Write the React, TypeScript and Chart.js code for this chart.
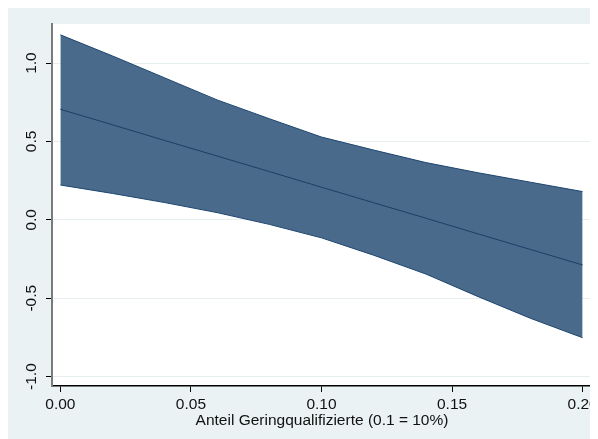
import { useEffect, useRef } from "react";
import { Chart, registerables } from "chart.js";

Chart.register(...registerables);

// Marginal effect of the low-skilled share, with its confidence band
const shareLowSkilled = [0, 0.02, 0.04, 0.06, 0.08, 0.1, 0.12, 0.14, 0.16, 0.18, 0.2];
const effect = [0.705, 0.606, 0.506, 0.407, 0.308, 0.208, 0.109, 0.01, -0.09, -0.189, -0.288];
const upperCI = [1.18, 1.045, 0.905, 0.765, 0.645, 0.528, 0.445, 0.365, 0.3, 0.24, 0.18];
const lowerCI = [0.222, 0.168, 0.11, 0.046, -0.029, -0.115, -0.226, -0.346, -0.49, -0.628, -0.752];

const xTicks = [0, 0.05, 0.1, 0.15, 0.2];
const xTickLabels = ["0.00", "0.05", "0.10", "0.15", "0.20"];
const yTicks = [-1, -0.5, 0, 0.5, 1];
const yTickLabels = ["-1.0", "-0.5", "0.0", "0.5", "1.0"];
const xTitle = "Anteil Geringqualifizierte (0.1 = 10%)";

const FONT_FAMILY = '"Liberation Sans", Arial, sans-serif';
const FONT_SIZE = 15.5;
const TEXT = "#111111";
const PAGE_BG = "#eaf2f3";
const GRID = "#e6eef0";
const BAND = "#496a8a";
const EDGE = "#1d4670";
const LINE = "#1a3f68";
const GRAPH_WIDTH = 587;

const backgroundPlugin = {
  id: "stataBackground",
  beforeDraw(chart: any) {
    const { ctx, chartArea, height } = chart;
    ctx.save();
    ctx.fillStyle = PAGE_BG;
    ctx.fillRect(0, 0, GRAPH_WIDTH, height);
    ctx.fillStyle = "#ffffff";
    ctx.fillRect(chartArea.left, chartArea.top, chartArea.right - chartArea.left, chartArea.bottom - chartArea.top);
    ctx.restore();
  },
};

// Vertical (bottom-to-top) labels for the y axis
const yLabelPlugin = {
  id: "verticalYLabels",
  afterDraw(chart: any) {
    const { ctx } = chart;
    const yScale = chart.scales.y;
    ctx.save();
    ctx.font = `${FONT_SIZE}px ${FONT_FAMILY}`;
    ctx.fillStyle = TEXT;
    ctx.textAlign = "center";
    ctx.textBaseline = "middle";
    yTicks.forEach((v, i) => {
      const py = yScale.getPixelForValue(v);
      ctx.save();
      ctx.translate(yScale.right - 20, py);
      ctx.rotate(-Math.PI / 2);
      ctx.fillText(yTickLabels[i], 0, 0);
      ctx.restore();
    });
    ctx.restore();
  },
};

export default function App() {
  const canvasRef = useRef<HTMLCanvasElement>(null);

  useEffect(() => {
    const points = (ys: number[]) => shareLowSkilled.map((x, i) => ({ x, y: ys[i] }));
    const chart = new Chart(canvasRef.current as HTMLCanvasElement, {
      type: "line",
      data: {
        datasets: [
          {
            label: "upper",
            data: points(upperCI),
            borderColor: EDGE,
            borderWidth: 1,
            backgroundColor: BAND,
            fill: "+1",
            pointRadius: 0,
            tension: 0,
          },
          {
            label: "lower",
            data: points(lowerCI),
            borderColor: EDGE,
            borderWidth: 1,
            fill: false,
            pointRadius: 0,
            tension: 0,
          },
          {
            label: "effect",
            data: points(effect),
            borderColor: LINE,
            borderWidth: 1,
            fill: false,
            pointRadius: 0,
            tension: 0,
          },
        ],
      },
      options: {
        responsive: false,
        animation: false,
        events: [],
        layout: { padding: { top: 16, right: 6, left: 0, bottom: 0 } },
        plugins: {
          legend: { display: false },
          tooltip: { enabled: false },
          title: { display: false },
          filler: { drawTime: "beforeDatasetsDraw" },
        },
        scales: {
          x: {
            type: "linear",
            min: -0.0032,
            max: 0.2036,
            afterBuildTicks: (s: any) => {
              s.ticks = xTicks.map((value) => ({ value }));
            },
            afterFit: (s: any) => {
              s.height = 53;
              s.paddingLeft = 0;
              s.paddingRight = 0;
            },
            ticks: {
              autoSkip: false,
              maxRotation: 0,
              padding: 3,
              color: TEXT,
              font: { family: FONT_FAMILY, size: FONT_SIZE },
              callback: (_v: any, i: number) => xTickLabels[i],
            },
            grid: { drawOnChartArea: false, drawTicks: true, tickLength: 6, tickColor: "#000000", tickWidth: 1 },
            border: { color: "#000000", width: 1.5 },
            title: {
              display: true,
              text: xTitle,
              color: TEXT,
              font: { family: FONT_FAMILY, size: FONT_SIZE },
              padding: { top: 0, bottom: 9 },
            },
          },
          y: {
            type: "linear",
            min: -1.06,
            max: 1.249,
            afterBuildTicks: (s: any) => {
              s.ticks = yTicks.map((value) => ({ value }));
            },
            afterFit: (s: any) => {
              s.width = 44;
              s.paddingTop = 0;
              s.paddingBottom = 0;
            },
            ticks: { display: false },
            grid: { color: GRID, lineWidth: 1, drawTicks: true, tickLength: 6, tickColor: "#000000", tickWidth: 1 },
            border: { color: "#7a7a7a", width: 2 },
          },
        },
      },
      plugins: [backgroundPlugin, yLabelPlugin],
    } as any);
    return () => chart.destroy();
  }, []);

  return <canvas ref={canvasRef} width={590} height={431} style={{ display: "block" }} />;
}
